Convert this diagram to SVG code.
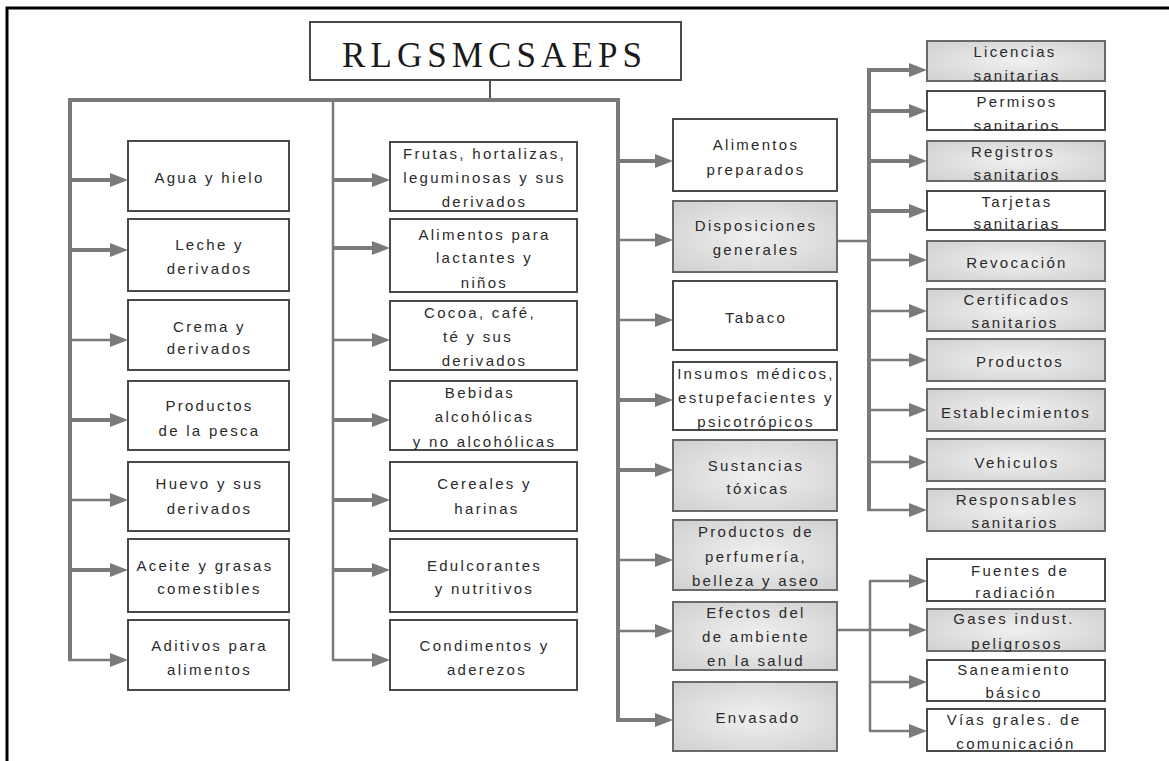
<svg xmlns="http://www.w3.org/2000/svg" width="1169" height="761" viewBox="0 0 1169 761">
<defs>
<radialGradient id="gf" cx="50%" cy="50%" r="65%">
<stop offset="0" stop-color="#f0f0f0"/>
<stop offset="1" stop-color="#d2d2d2"/>
</radialGradient>
<marker id="ah" markerUnits="userSpaceOnUse" markerWidth="18" markerHeight="14" refX="8" refY="7" orient="auto">
<path d="M0,0 L18,7 L0,14 z" fill="#7a7a7a"/>
</marker>
<style>
.box{fill:#fff;stroke:#4a4a4a;stroke-width:2}
.gbox{fill:url(#gf);stroke:#6a6a6a;stroke-width:2}
.t{font-family:"Liberation Sans",Arial,sans-serif;font-size:15px;letter-spacing:2.3px;fill:#2a2a2a;text-anchor:middle}
.ti{font-family:"Liberation Serif","Times New Roman",serif;font-size:35px;letter-spacing:5.1px;fill:#1a1a1a;text-anchor:middle}
.k{fill:none;stroke:#7a7a7a;stroke-width:4}
.n{fill:none;stroke:#7a7a7a;stroke-width:2.5}
.a{marker-end:url(#ah)}
</style>
</defs>
<rect width="1169" height="761" fill="#fff"/>
<path d="M7,761 V8 H1169" fill="none" stroke="#000" stroke-width="3"/>

<g id="connectors">
<line x1="490" y1="80" x2="490" y2="100" stroke="#555" stroke-width="2"/>
<path class="k" d="M68,100 H620"/>
<path class="k" d="M70,98 V660"/>
<path class="n" d="M333,100 V660"/>
<path class="k" d="M618,98 V720"/>
<path class="n" d="M837,241 H869"/>
<path class="k" d="M869,70 V510"/>
<path class="n" d="M837,630 H870"/>
<path class="n" d="M870,581 V731"/>
<line class="k a" x1="68" y1="180" x2="118" y2="180"/>
<line class="k a" x1="68" y1="250" x2="118" y2="250"/>
<line class="n a" x1="69" y1="340" x2="118" y2="340"/>
<line class="k a" x1="68" y1="420" x2="118" y2="420"/>
<line class="n a" x1="69" y1="500" x2="118" y2="500"/>
<line class="k a" x1="68" y1="570" x2="118" y2="570"/>
<line class="n a" x1="68" y1="660" x2="118" y2="660"/>
<line class="k a" x1="333" y1="180" x2="380" y2="180"/>
<line class="k a" x1="333" y1="248" x2="380" y2="248"/>
<line class="n a" x1="333" y1="340" x2="380" y2="340"/>
<line class="k a" x1="333" y1="420" x2="380" y2="420"/>
<line class="k a" x1="333" y1="500" x2="380" y2="500"/>
<line class="k a" x1="333" y1="570" x2="380" y2="570"/>
<line class="n a" x1="332" y1="660" x2="380" y2="660"/>
<line class="k a" x1="616" y1="161" x2="663" y2="161"/>
<line class="n a" x1="617" y1="240" x2="663" y2="240"/>
<line class="n a" x1="617" y1="320" x2="663" y2="320"/>
<line class="k a" x1="616" y1="400" x2="663" y2="400"/>
<line class="k a" x1="616" y1="470" x2="663" y2="470"/>
<line class="n a" x1="617" y1="560" x2="663" y2="560"/>
<line class="n a" x1="617" y1="631" x2="663" y2="631"/>
<line class="k a" x1="616" y1="720" x2="663" y2="720"/>
<line class="k a" x1="867" y1="70" x2="917" y2="70"/>
<line class="k a" x1="867" y1="111" x2="917" y2="111"/>
<line class="k a" x1="867" y1="161" x2="917" y2="161"/>
<line class="k a" x1="867" y1="211" x2="917" y2="211"/>
<line class="n a" x1="869" y1="260" x2="917" y2="260"/>
<line class="n a" x1="869" y1="311" x2="917" y2="311"/>
<line class="n a" x1="869" y1="360" x2="917" y2="360"/>
<line class="n a" x1="869" y1="410" x2="917" y2="410"/>
<line class="n a" x1="869" y1="462" x2="917" y2="462"/>
<line class="n a" x1="867" y1="510" x2="917" y2="510"/>
<line class="n a" x1="869" y1="581" x2="917" y2="581"/>
<line class="n a" x1="870" y1="630" x2="917" y2="630"/>
<line class="n a" x1="870" y1="682" x2="917" y2="682"/>
<line class="n a" x1="869" y1="731" x2="917" y2="731"/>
</g>

<g id="title"><rect class="box" x="310" y="22" width="371" height="58"/><text class="ti" x="494.5" y="67">RLGSMCSAEPS</text></g>

<g id="agua"><rect class="box" x="128" y="141" width="161" height="70"/><text class="t" x="209.5" y="183">Agua y hielo</text></g>
<g id="leche"><rect class="box" x="128" y="219" width="161" height="72"/><text class="t" x="209.5" y="250">Leche y</text><text class="t" x="209.5" y="274">derivados</text></g>
<g id="crema"><rect class="box" x="128" y="300" width="161" height="70"/><text class="t" x="209.5" y="332">Crema y</text><text class="t" x="209.5" y="354">derivados</text></g>
<g id="pesca"><rect class="box" x="128" y="381" width="161" height="69"/><text class="t" x="209.5" y="411">Productos</text><text class="t" x="209.5" y="436">de la pesca</text></g>
<g id="huevo"><rect class="box" x="128" y="462" width="161" height="69"/><text class="t" x="209.5" y="489">Huevo y sus</text><text class="t" x="209.5" y="514">derivados</text></g>
<g id="aceite"><rect class="box" x="128" y="539" width="161" height="73"/><text class="t" x="205" y="571">Aceite y grasas</text><text class="t" x="209.5" y="594">comestibles</text></g>
<g id="aditivos"><rect class="box" x="128" y="620" width="161" height="70"/><text class="t" x="209.5" y="651">Aditivos para</text><text class="t" x="209.5" y="675">alimentos</text></g>

<g id="frutas"><rect class="box" x="390" y="142" width="187" height="69"/><text class="t" x="484.5" y="159">Frutas, hortalizas,</text><text class="t" x="484.5" y="183">leguminosas y sus</text><text class="t" x="484.5" y="207">derivados</text></g>
<g id="lactantes"><rect class="box" x="390" y="219" width="187" height="73"/><text class="t" x="484.5" y="240">Alimentos para</text><text class="t" x="484.5" y="263">lactantes  y</text><text class="t" x="484.5" y="288">niños</text></g>
<g id="cocoa"><rect class="box" x="390" y="301" width="187" height="69"/><text class="t" x="480" y="318">Cocoa, café,</text><text class="t" x="478" y="342">té y sus</text><text class="t" x="484.5" y="366">derivados</text></g>
<g id="bebidas"><rect class="box" x="390" y="381" width="187" height="69"/><text class="t" x="480" y="398">Bebidas</text><text class="t" x="484.5" y="422">alcohólicas</text><text class="t" x="484.5" y="447">y no alcohólicas</text></g>
<g id="cereales"><rect class="box" x="390" y="462" width="187" height="69"/><text class="t" x="484.5" y="489">Cereales y</text><text class="t" x="487" y="514">harinas</text></g>
<g id="edulcorantes"><rect class="box" x="390" y="539" width="187" height="73"/><text class="t" x="484.5" y="571">Edulcorantes</text><text class="t" x="484.5" y="594">y nutritivos</text></g>
<g id="condimentos"><rect class="box" x="390" y="620" width="187" height="70"/><text class="t" x="484.5" y="651">Condimentos y</text><text class="t" x="487" y="675">aderezos</text></g>

<g id="preparados"><rect class="box" x="673" y="119" width="164" height="72"/><text class="t" x="756" y="150">Alimentos</text><text class="t" x="756" y="175">preparados</text></g>
<g id="disposiciones"><rect class="gbox" x="673" y="201" width="164" height="71"/><text class="t" x="756" y="231">Disposiciones</text><text class="t" x="756" y="255">generales</text></g>
<g id="tabaco"><rect class="box" x="673" y="281" width="164" height="69"/><text class="t" x="756" y="323">Tabaco</text></g>
<g id="insumos"><rect class="box" x="673" y="362" width="164" height="68"/><text class="t" x="756" y="379">Insumos médicos,</text><text class="t" x="756" y="403">estupefacientes y</text><text class="t" x="756" y="427">psicotrópicos</text></g>
<g id="sustancias"><rect class="gbox" x="673" y="440" width="164" height="71"/><text class="t" x="756" y="471">Sustancias</text><text class="t" x="758" y="494">tóxicas</text></g>
<g id="perfumeria"><rect class="gbox" x="673" y="520" width="164" height="70"/><text class="t" x="756" y="537">Productos de</text><text class="t" x="756" y="562">perfumería,</text><text class="t" x="756" y="586">belleza y aseo</text></g>
<g id="efectos"><rect class="gbox" x="673" y="602" width="164" height="68"/><text class="t" x="756" y="618">Efectos del</text><text class="t" x="756" y="642">de ambiente</text><text class="t" x="756" y="666">en la salud</text></g>
<g id="envasado"><rect class="gbox" x="673" y="682" width="164" height="69"/><text class="t" x="758" y="723">Envasado</text></g>

<g id="licencias"><rect class="gbox" x="927" y="41" width="178" height="40"/><text class="t" x="1015" y="57">Licencias</text><text class="t" x="1017" y="81">sanitarias</text></g>
<g id="permisos"><rect class="box" x="927" y="91" width="178" height="39"/><text class="t" x="1017" y="107">Permisos</text><text class="t" x="1017" y="131">sanitarios</text></g>
<g id="registros"><rect class="gbox" x="927" y="141" width="178" height="40"/><text class="t" x="1013" y="157">Registros</text><text class="t" x="1017" y="180">sanitarios</text></g>
<g id="tarjetas"><rect class="box" x="927" y="191" width="178" height="39"/><text class="t" x="1017" y="207">Tarjetas</text><text class="t" x="1017" y="229">sanitarias</text></g>
<g id="revocacion"><rect class="gbox" x="927" y="241" width="178" height="40"/><text class="t" x="1017" y="268">Revocación</text></g>
<g id="certificados"><rect class="gbox" x="927" y="289" width="178" height="42"/><text class="t" x="1017" y="305">Certificados</text><text class="t" x="1015" y="328">sanitarios</text></g>
<g id="productos"><rect class="gbox" x="927" y="339" width="178" height="42"/><text class="t" x="1020" y="367">Productos</text></g>
<g id="establecimientos"><rect class="gbox" x="927" y="389" width="178" height="42"/><text class="t" x="1016" y="418">Establecimientos</text></g>
<g id="vehiculos"><rect class="gbox" x="927" y="439" width="178" height="42"/><text class="t" x="1017" y="468">Vehiculos</text></g>
<g id="responsables"><rect class="gbox" x="927" y="489" width="178" height="42"/><text class="t" x="1017" y="505">Responsables</text><text class="t" x="1015" y="528">sanitarios</text></g>

<g id="fuentes"><rect class="box" x="927" y="559" width="178" height="42"/><text class="t" x="1020" y="576">Fuentes de</text><text class="t" x="1016" y="598">radiación</text></g>
<g id="gases"><rect class="gbox" x="927" y="609" width="178" height="42"/><text class="t" x="1014" y="624">Gases indust.</text><text class="t" x="1017" y="649">peligrosos</text></g>
<g id="saneamiento"><rect class="box" x="927" y="660" width="178" height="41"/><text class="t" x="1014" y="675">Saneamiento</text><text class="t" x="1014" y="698">básico</text></g>
<g id="vias"><rect class="box" x="927" y="709" width="178" height="42"/><text class="t" x="1014" y="725">Vías grales. de</text><text class="t" x="1016" y="749">comunicación</text></g>
</svg>
